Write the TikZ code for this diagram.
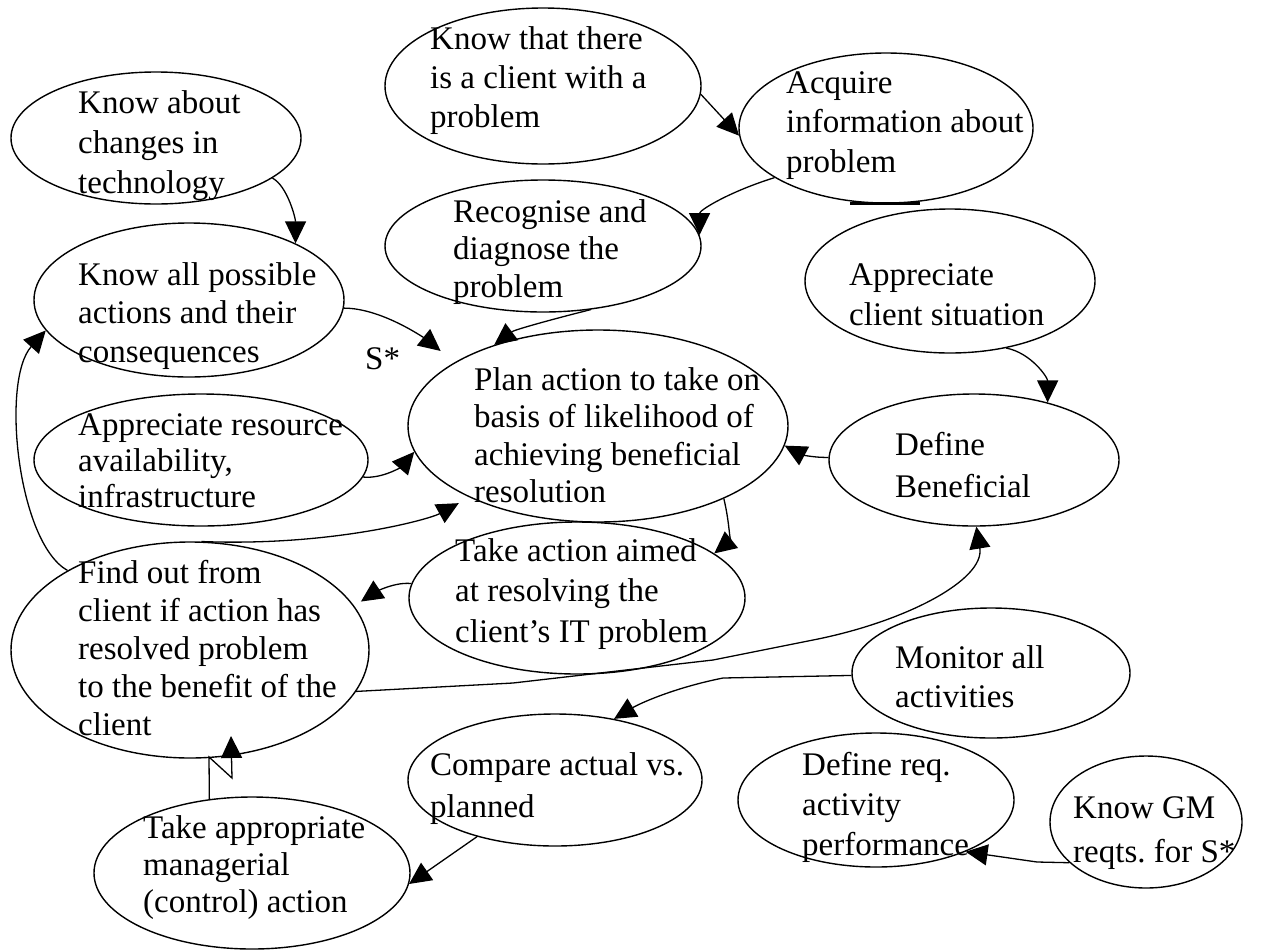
\documentclass[tikz,border=0pt]{standalone}
\usepackage{fontspec}
\setmainfont{Liberation Serif}
\usetikzlibrary{arrows.meta,shapes.geometric,calc}
\frenchspacing

% left-aligned block of lines; #1 = distance between baselines
\newcommand\conceptlines[2]{\fontsize{33}{#1}\selectfont\begin{tabular}[t]{@{}l@{}}#2\end{tabular}}

\tikzset{
  ell/.style={draw, ellipse, inner sep=0pt, line width=1.4pt},
  lbl/.style={anchor=base west, inner sep=0pt},
  conn/.style={line width=1.3pt, -{Triangle[length=22pt,width=21pt]}},
}

\begin{document}
\begin{tikzpicture}[x=1pt,y=-1pt]
\fill[white] (0,0) rectangle (1276,951);
\useasboundingbox (0,0) rectangle (1276,951);

% concept ellipses
\node[ell, minimum width=290pt, minimum height=132pt] (tech)       at (156,138) {};
\node[ell, minimum width=316pt, minimum height=156pt] (client)     at (543,86)  {};
\node[ell, minimum width=294pt, minimum height=150pt] (acquire)    at (886,128) {};
\node[ell, minimum width=316pt, minimum height=132pt] (recog)      at (543,246) {};
\node[ell, minimum width=310pt, minimum height=154pt] (knowall)    at (189,300) {};
\node[ell, minimum width=380pt, minimum height=192pt] (plan)       at (598,426) {};
\node[ell, minimum width=334pt, minimum height=132pt] (resource)   at (201,460) {};
\node[ell, minimum width=290pt, minimum height=144pt] (situation)  at (950,281) {};
\node[ell, minimum width=290pt, minimum height=132pt] (define)     at (974,460) {};
\node[ell, minimum width=336pt, minimum height=152pt] (takeaction) at (577,598) {};
\node[ell, minimum width=358pt, minimum height=216pt] (findout)    at (190,650) {};
\node[ell, minimum width=278pt, minimum height=130pt] (monitor)    at (991,673) {};
\node[ell, minimum width=294pt, minimum height=132pt] (compare)    at (555,780) {};
\node[ell, minimum width=276pt, minimum height=134pt] (definereq)  at (876,800) {};
\node[ell, minimum width=192pt, minimum height=132pt] (gm)         at (1146,822) {};
\node[ell, minimum width=316pt, minimum height=152pt] (managerial) at (252,873) {};

% heavy stroke under the acquire ellipse
\draw[line width=3pt] ([xshift=-36pt]acquire.south) -- ([xshift=34pt]acquire.south);

% texts
\node[lbl] (tech-t)       at (78,113)  {\conceptlines{40}{Know about\\changes in\\technology}};
\node[lbl] (client-t)     at (430,49)  {\conceptlines{39}{Know that there\\is a client with a\\problem}};
\node[lbl] (acquire-t)    at (786,93)  {\conceptlines{39.5}{Acquire\\information about\\problem}};
\node[lbl] (recog-t)      at (453,222) {\conceptlines{37.5}{Recognise and\\diagnose the\\problem}};
\node[lbl] (knowall-t)    at (78,285)  {\conceptlines{38.5}{Know all possible\\actions and their\\consequences}};
\node[lbl] (plan-t)       at (474,390) {\conceptlines{37.5}{Plan action to take on\\basis of likelihood of\\achieving beneficial\\resolution}};
\node[lbl] (resource-t)   at (78,435)  {\conceptlines{36}{Appreciate resource\\availability,\\infrastructure}};
\node[lbl] (situation-t)  at (849,285) {\conceptlines{40}{Appreciate\\client situation}};
\node[lbl] (define-t)     at (895,455) {\conceptlines{42}{Define\\Beneficial}};
\node[lbl] (takeaction-t) at (455,561) {\conceptlines{40.5}{Take action aimed\\at resolving the\\client’s IT problem}};
\node[lbl] (findout-t)    at (78,583)  {\conceptlines{38}{Find out from\\client if action has\\resolved problem\\to the benefit of the\\client}};
\node[lbl] (monitor-t)    at (895,668) {\conceptlines{39}{Monitor all\\activities}};
\node[lbl] (compare-t)    at (430,775) {\conceptlines{42}{Compare actual vs.\\planned}};
\node[lbl] (definereq-t)  at (802,775) {\conceptlines{40}{Define req.\\activity\\performance}};
\node[lbl] (gm-t)         at (1073,818){\conceptlines{44}{Know GM\\reqts. for S*}};
\node[lbl] (managerial-t) at (143,838) {\conceptlines{37}{Take appropriate\\managerial\\(control) action}};
\node[lbl] (sstar)        at (365,369) {\fontsize{33}{40}\selectfont S*};

% connectors
\draw[conn] (tech.-19) .. controls +(15,8) and +(0,-25) .. (knowall.28);
\draw[conn] (client.-3) -- (acquire.183);
\draw[conn] (acquire.204) .. controls +(-45,14) and +(0,-25) .. (recog.4);
\draw[conn] (recog.-53) .. controls +(-40,10) and +(20,-15) .. (plan.142);
\draw[conn, shorten >=18pt] (knowall.-3) .. controls +(40,0) and +(-25,-20) .. (plan.156);
\draw[conn] (resource.-6) .. controls +(20,2) and +(-12,14) .. (plan.188);
\draw[conn, shorten >=12pt] (findout.84) .. controls +(130,5) and +(-40,22) .. (plan.209);
\draw[conn] (define.179) .. controls +(-20,0) and +(15,8) .. (plan.-6);
\draw[conn] (situation.-50) .. controls +(25,5) and +(0,-25) .. (define.38);
\draw[conn] (plan.-30) .. controls +(6,25) and +(15,-12) .. (takeaction.18);
\draw[conn, shorten >=8pt] (takeaction.175) .. controls +(-20,-2) and +(15,-10) .. (findout.15);
\draw[conn] (findout.147) .. controls +(-50,-28) and +(-45,50) .. (knowall.192);
\draw[conn] (findout.-14) -- (513,683) -- (713,660) -- (813,640)
            .. controls (905,622) and (985,580) .. (define.-88);
\draw[conn] (monitor.181) -- (723,678) .. controls +(-50,10) and +(25,-15) .. (compare.46);
\draw[conn] (compare.216) -- (managerial.-4);
\coordinate (mgtip) at (231,736);
\draw[conn] (managerial.120) -- (209,757) -- (232,778) -- (mgtip);
\draw[conn] (gm.208) -- (1037,862) -- (definereq.-30);
\end{tikzpicture}
\end{document}
